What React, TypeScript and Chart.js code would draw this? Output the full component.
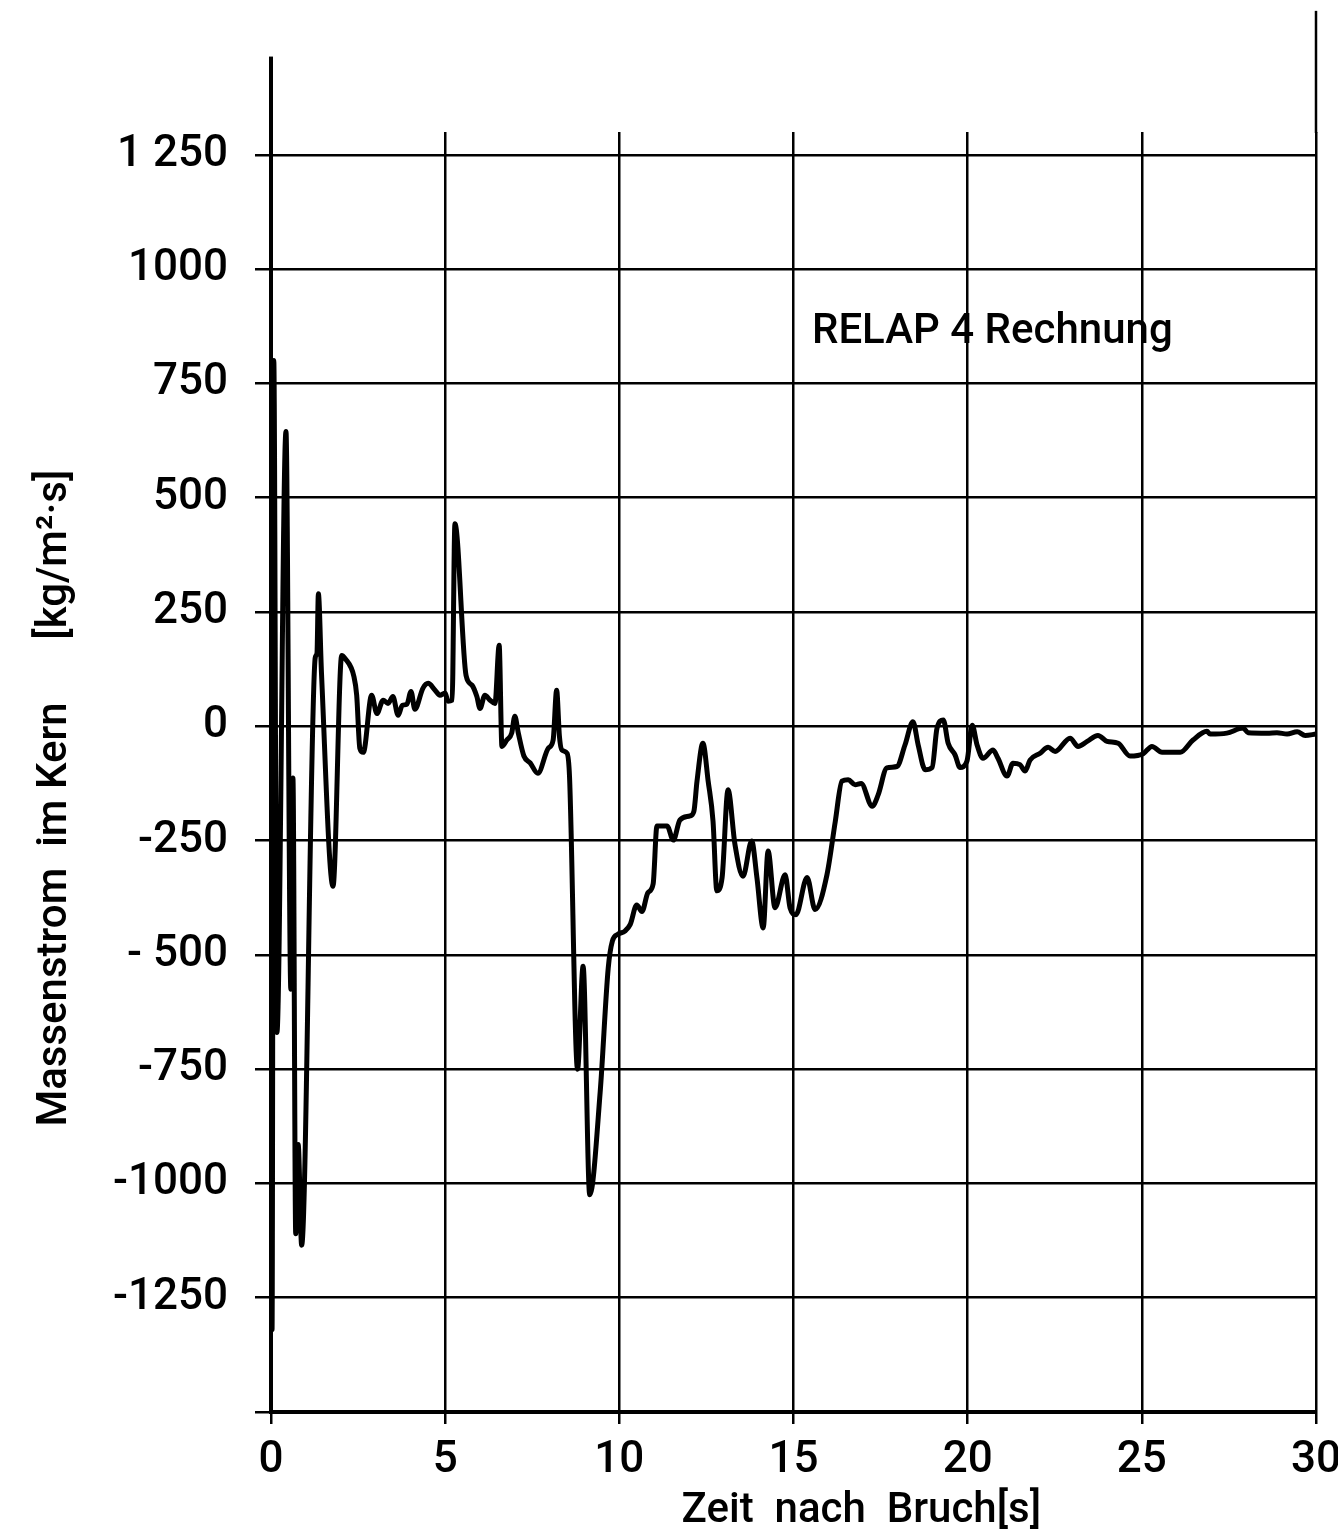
import { useEffect, useRef } from 'react';
import { Chart, registerables } from 'chart.js';

Chart.register(...registerables);

// Core mass flux after the break, RELAP 4 calculation
const TIME_S = [
  0, 0.03, 0.08, 0.17, 0.43, 0.57, 0.63, 0.71, 0.78, 0.88,
  1.27, 1.32, 1.36, 1.45, 1.78, 2.03, 2.13, 2.38, 2.46, 2.55,
  2.65, 2.89, 3.04, 3.22, 3.36, 3.5, 3.65, 3.77, 3.9, 4.02,
  4.13, 4.36, 4.51, 4.71, 4.85, 5.0, 5.08, 5.2, 5.28, 5.6,
  5.77, 5.91, 6.0, 6.14, 6.29, 6.43, 6.55, 6.63, 6.77, 6.91,
  7.0, 7.1, 7.26, 7.44, 7.66, 7.96, 8.1, 8.2, 8.28, 8.35,
  8.5, 8.57, 8.8, 8.96, 9.15, 9.45, 9.68, 9.8, 9.96, 10.16,
  10.31, 10.5, 10.65, 10.82, 10.97, 11.08, 11.37, 11.55, 11.74, 12.03,
  12.14, 12.23, 12.4, 12.55, 12.69, 12.8, 12.95, 13.12, 13.32, 13.55,
  13.8, 13.95, 14.13, 14.27, 14.47, 14.76, 14.9, 15.07, 15.39, 15.62,
  15.96, 16.2, 16.39, 16.57, 16.77, 16.94, 17.26, 17.43, 17.68, 17.97,
  18.2, 18.43, 18.58, 18.78, 18.98, 19.12, 19.3, 19.44, 19.64, 19.78,
  19.98, 20.13, 20.27, 20.44, 20.73, 20.87, 21.13, 21.3, 21.5, 21.65,
  21.79, 22.08, 22.31, 22.51, 22.94, 23.17, 23.43, 23.74, 24.0, 24.32,
  24.66, 25.04, 25.29, 25.58, 26.1, 26.47, 26.87, 26.96, 27.44, 27.91,
  28.05, 28.6, 28.88, 29.17, 29.46, 29.69, 30.0,
];

const MASS_FLUX = [
  0, -1320, 800, -670, 645, -575, -113, -1110, -915, -1135,
  150, 160, 290, 115, -350, 155, 148, 109, 68, -48,
  -57, 68, 28, 57, 50, 65, 24, 46, 48, 76,
  37, 83, 94, 79, 68, 73, 55, 57, 443, 111,
  90, 65, 39, 68, 57, 50, 177, -44, -30, -15,
  22, -15, -65, -80, -103, -48, -30, 79, -22, -52,
  -59, -110, -750, -525, -1025, -800, -530, -470, -455, -448,
  -434, -391, -405, -364, -345, -218, -218, -249, -205, -196,
  -186, -120, -37, -120, -208, -360, -331, -139, -259, -328,
  -251, -331, -441, -273, -397, -325, -397, -412, -331, -401,
  -325, -208, -120, -117, -128, -125, -175, -150, -91, -88,
  -41, 10, -41, -95, -90, -4, 14, -37, -63, -90,
  -76, 2, -41, -70, -52, -70, -109, -81, -84, -98,
  -74, -59, -46, -55, -26, -44, -33, -20, -33, -37,
  -65, -60, -44, -57, -57, -30, -11, -17, -15, -4,
  -14, -15, -14, -17, -12, -20, -17,
];

const X_TICK_VALUES = [0, 5, 10, 15, 20, 25, 30];
// grid rows; the bottom row (-1500) carries no label
const Y_GRID_VALUES = [-1500, -1250, -1000, -750, -500, -250, 0, 250, 500, 750, 1000, 1250];
const Y_TICK_TEXT = ['', '-1250', '-1000', '-750', '- 500', '-250', '0', '250', '500', '750', '1000', '1 250'];

const X_TITLE = '             Zeit  nach  Bruch[s]';
const Y_TITLE = 'Massenstrom  im Kern      [kg/m²·s]     ';
const CURVE_LABEL = 'RELAP 4 Rechnung';

const INK = '#000';
const FONT = 'Roboto';
const WEIGHT = 500;

// where the curve caption sits, in axis units
const CURVE_LABEL_T = 15.53;
const CURVE_LABEL_V = 861;
// the left axis and the 30 s rule run on above the plotting area
const LEFT_AXIS_TOP = 1465;
const RIGHT_RULE_TOP = 1565;

const frameExtras = {
  id: 'frameExtras',
  afterDraw(chart: any) {
    const { ctx, chartArea } = chart;
    const xs = chart.scales.x;
    const ys = chart.scales.y;
    ctx.save();
    ctx.strokeStyle = INK;
    ctx.lineCap = 'butt';

    const x0 = xs.getPixelForValue(0);
    ctx.lineWidth = 4;
    ctx.beginPath();
    ctx.moveTo(x0, ys.getPixelForValue(LEFT_AXIS_TOP));
    ctx.lineTo(x0, chartArea.top + 1);
    ctx.stroke();

    const x30 = xs.getPixelForValue(30);
    ctx.lineWidth = 2.5;
    ctx.beginPath();
    ctx.moveTo(x30, ys.getPixelForValue(RIGHT_RULE_TOP));
    ctx.lineTo(x30, chartArea.top + 1);
    ctx.stroke();

    ctx.fillStyle = INK;
    ctx.font = `${WEIGHT} 42px ${FONT}`;
    ctx.textAlign = 'left';
    ctx.textBaseline = 'middle';
    ctx.fillText(CURVE_LABEL, xs.getPixelForValue(CURVE_LABEL_T), ys.getPixelForValue(CURVE_LABEL_V));
    ctx.restore();
  },
};

export default function App() {
  const canvasRef = useRef<HTMLCanvasElement>(null);

  useEffect(() => {
    const canvas = canvasRef.current;
    if (!canvas) return;
    const points = TIME_S.map((t, i) => ({ x: t, y: MASS_FLUX[i] }));

    const chart = new Chart(canvas, {
      type: 'line',
      data: {
        datasets: [
          {
            data: points,
            borderColor: INK,
            borderWidth: 5,
            pointRadius: 0,
            cubicInterpolationMode: 'monotone',
            borderJoinStyle: 'round',
            borderCapStyle: 'round',
            fill: false,
          },
        ],
      },
      options: {
        responsive: false,
        animation: false,
        devicePixelRatio: 1,
        layout: { padding: { top: 132, right: 22, left: 0, bottom: 0 } },
        plugins: {
          legend: { display: false },
          tooltip: { enabled: false },
        },
        scales: {
          x: {
            type: 'linear',
            min: 0,
            max: 30,
            afterBuildTicks: (s: any) => {
              s.ticks = X_TICK_VALUES.map((v) => ({ value: v }));
            },
            afterFit: (s: any) => {
              s.height = 127;
              s.paddingLeft = 0;
              s.paddingRight = 0;
            },
            border: { display: true, color: INK, width: 4 },
            grid: { color: INK, lineWidth: 2.5, tickLength: 12, drawTicks: true },
            ticks: {
              autoSkip: false,
              maxRotation: 0,
              padding: 11,
              color: INK,
              font: { family: FONT, size: 44, weight: WEIGHT },
            },
            title: {
              display: true,
              text: X_TITLE,
              color: INK,
              font: { family: FONT, size: 42, weight: WEIGHT },
              padding: { top: 0, bottom: 2 },
            },
          },
          y: {
            type: 'linear',
            min: -1500,
            max: 1300,
            afterBuildTicks: (s: any) => {
              s.ticks = Y_GRID_VALUES.map((v) => ({ value: v }));
            },
            afterFit: (s: any) => {
              s.width = 271;
            },
            border: { display: true, color: INK, width: 4 },
            grid: { color: INK, lineWidth: 2.5, tickLength: 16, drawTicks: true },
            ticks: {
              autoSkip: false,
              padding: 27,
              color: INK,
              font: { family: FONT, size: 44, weight: WEIGHT },
              callback: (value: any) => {
                const idx = Y_GRID_VALUES.indexOf(Number(value));
                return idx >= 0 ? Y_TICK_TEXT[idx] : '';
              },
            },
            title: {
              display: true,
              text: Y_TITLE,
              color: INK,
              font: { family: FONT, size: 42, weight: WEIGHT },
              padding: { top: 30, bottom: 0 },
            },
          },
        },
      },
      plugins: [frameExtras],
    } as any);

    return () => chart.destroy();
  }, []);

  return (
    <div style={{ position: 'absolute', left: 0, top: 0, width: 1338, height: 1539, background: '#fff' }}>
      <canvas ref={canvasRef} width={1338} height={1539} style={{ display: 'block' }} />
    </div>
  );
}
